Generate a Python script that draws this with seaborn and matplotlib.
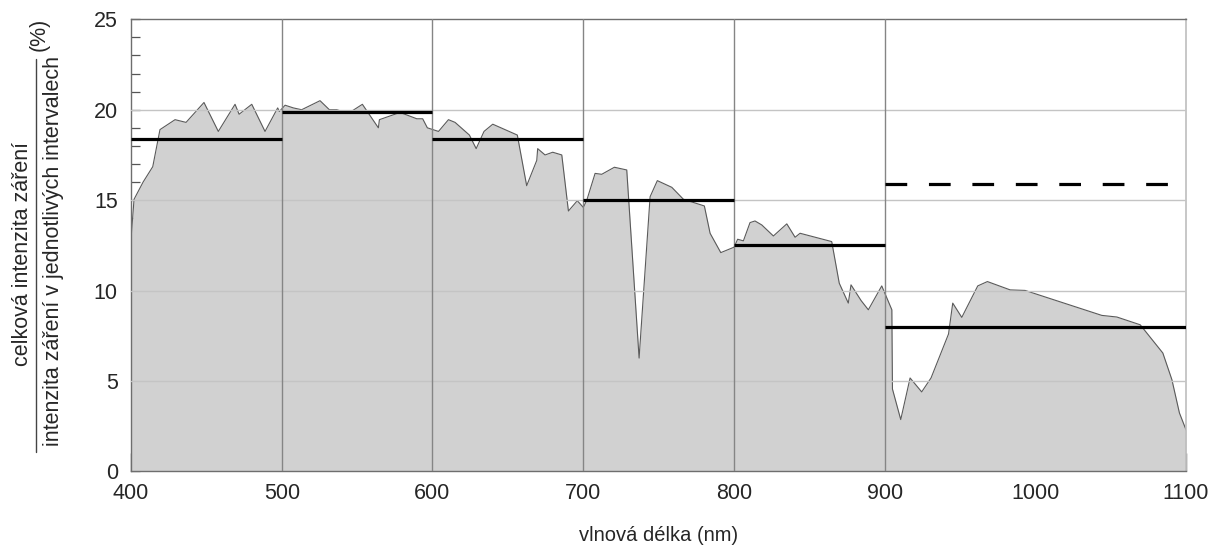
import matplotlib
matplotlib.use("Agg")
import matplotlib.pyplot as plt
from matplotlib.lines import Line2D
import seaborn as sns
import pandas as pd

# Spectral irradiance share (%) versus wavelength (nm)
wavelength = [400.0, 402.0, 408.0, 414.4, 419.2, 429.2, 436.5, 448.4, 457.9, 469.0,
              471.7, 480.1, 488.9, 497.3, 498.4, 502.2, 507.7, 513.2, 525.4, 531.6,
              536.5, 544.2, 553.5, 564.1, 564.8, 578.5, 589.6, 593.5, 596.6, 604.0,
              610.6, 615.0, 624.5, 629.0, 634.2, 640.0, 656.3, 662.5, 669.2, 669.8,
              674.7, 679.8, 685.8, 690.2, 696.1, 700.1, 702.4, 707.9, 712.3, 720.7,
              728.9, 737.1, 744.4, 749.2, 758.8, 766.5, 780.4, 784.2, 791.3, 800.1,
              802.5, 806.3, 810.7, 814.0, 818.5, 826.2, 835.1, 840.6, 843.9, 864.9,
              869.9, 875.9, 877.7, 884.4, 889.2, 898.1, 904.8, 905.2, 910.7, 916.9,
              924.6, 930.8, 942.4, 945.2, 951.2, 961.8, 968.2, 983.3, 993.2, 1044.1,
              1054.1, 1069.6, 1084.6, 1090.6, 1095.6, 1100.0]
intensity = [12.9, 15.05, 16.0, 16.85, 18.9, 19.45, 19.3, 20.4, 18.8, 20.3,
             19.75, 20.3, 18.8, 20.1, 19.9, 20.25, 20.1, 20.0, 20.5, 20.0,
             20.0, 19.8, 20.3, 19.0, 19.45, 19.85, 19.5, 19.5, 19.0, 18.8,
             19.45, 19.3, 18.6, 17.85, 18.8, 19.2, 18.6, 15.8, 17.2, 17.85,
             17.5, 17.65, 17.5, 14.4, 14.97, 14.6, 15.0, 16.48, 16.43, 16.82,
             16.67, 6.27, 15.19, 16.08, 15.71, 15.05, 14.68, 13.17, 12.10, 12.40,
             12.84, 12.75, 13.76, 13.85, 13.63, 13.02, 13.69, 12.95, 13.17, 12.71,
             10.41, 9.31, 10.32, 9.45, 8.94, 10.26, 8.94, 4.56, 2.87, 5.17,
             4.40, 5.17, 7.60, 9.31, 8.52, 10.26, 10.50, 10.04, 10.01, 8.63,
             8.54, 8.11, 6.55, 5.08, 3.24, 2.3]

# Mean level within each wavelength interval
interval_start = [400, 500, 600, 700, 800, 900]
interval_end = [500, 600, 700, 800, 900, 1100]
interval_mean = [18.4, 19.9, 18.4, 15.0, 12.5, 8.0]

# Reference level over the last interval
dashed_start = 900
dashed_end = 1100
dashed_level = 15.9

x_ticks = [400, 500, 600, 700, 800, 900, 1000, 1100]
y_ticks = [0, 5, 10, 15, 20, 25]

sns.set_theme(style="white")
plt.rcParams["font.family"] = ["Liberation Sans", "DejaVu Sans"]

df = pd.DataFrame({"wavelength": wavelength, "intensity": intensity})

fig = plt.figure(figsize=(12.10, 5.51), dpi=100)
ax = fig.add_axes([0.1083, 0.1443, 0.9802 - 0.1083, 0.965 - 0.1443])

ax.fill_between(df["wavelength"], df["intensity"], 0, color="#d1d1d1", lw=0, zorder=1)
sns.lineplot(data=df, x="wavelength", y="intensity", sort=False, ax=ax,
             color="#5a5a5a", lw=0.8, zorder=2)

# horizontal grid
for yv in y_ticks[1:-1]:
    ax.axhline(yv, color="#c4c4c4", lw=1.0, zorder=3)
# interval boundaries
for xv in interval_start[1:]:
    ax.axvline(xv, color="#858585", lw=1.0, zorder=3)

ax.hlines(interval_mean, interval_start, interval_end, color="black", lw=2.3, zorder=5)
ax.hlines([dashed_level], [dashed_start], [dashed_end], color="black", lw=2.3,
          linestyles=[(0, (6.8, 6.8))], zorder=5)

ax.set_xlim(400, 1100)
ax.set_ylim(0, 25)
ax.set_xticks(x_ticks)
ax.set_yticks(y_ticks)
ax.set_yticks(range(0, 26), minor=True)
ax.tick_params(axis="x", which="major", direction="in", length=13, width=1.0,
               color="#555555", labelsize=15.5, pad=8, bottom=True)
ax.tick_params(axis="y", which="both", direction="in", length=6.5, width=0.9,
               color="#555555", labelsize=15.5, pad=9.5, left=True)

for side in ("left", "top", "bottom"):
    ax.spines[side].set_color("#6e6e6e")
    ax.spines[side].set_linewidth(1.0)
ax.spines["right"].set_color("#bdbdbd")
ax.spines["right"].set_linewidth(1.2)

ax.set_xlabel("vlnová délka (nm)", fontsize=14.5, labelpad=16)
ax.set_ylabel("")

# fractional y-axis label
fig.text(0.0182, 0.539, "celková intenzita záření", rotation=90,
         ha="center", va="center", fontsize=15.5)
fig.text(0.044, 0.544, "intenzita záření v jednotlivých intervalech", rotation=90,
         ha="center", va="center", fontsize=15.5)
fig.add_artist(Line2D([0.0298, 0.0298], [0.180, 0.893], transform=fig.transFigure,
                      color="#444444", lw=1.0))
fig.text(0.0320, 0.937, "(%)", rotation=90, ha="center", va="center", fontsize=15.5)

fig.savefig("out.png", dpi=100)
